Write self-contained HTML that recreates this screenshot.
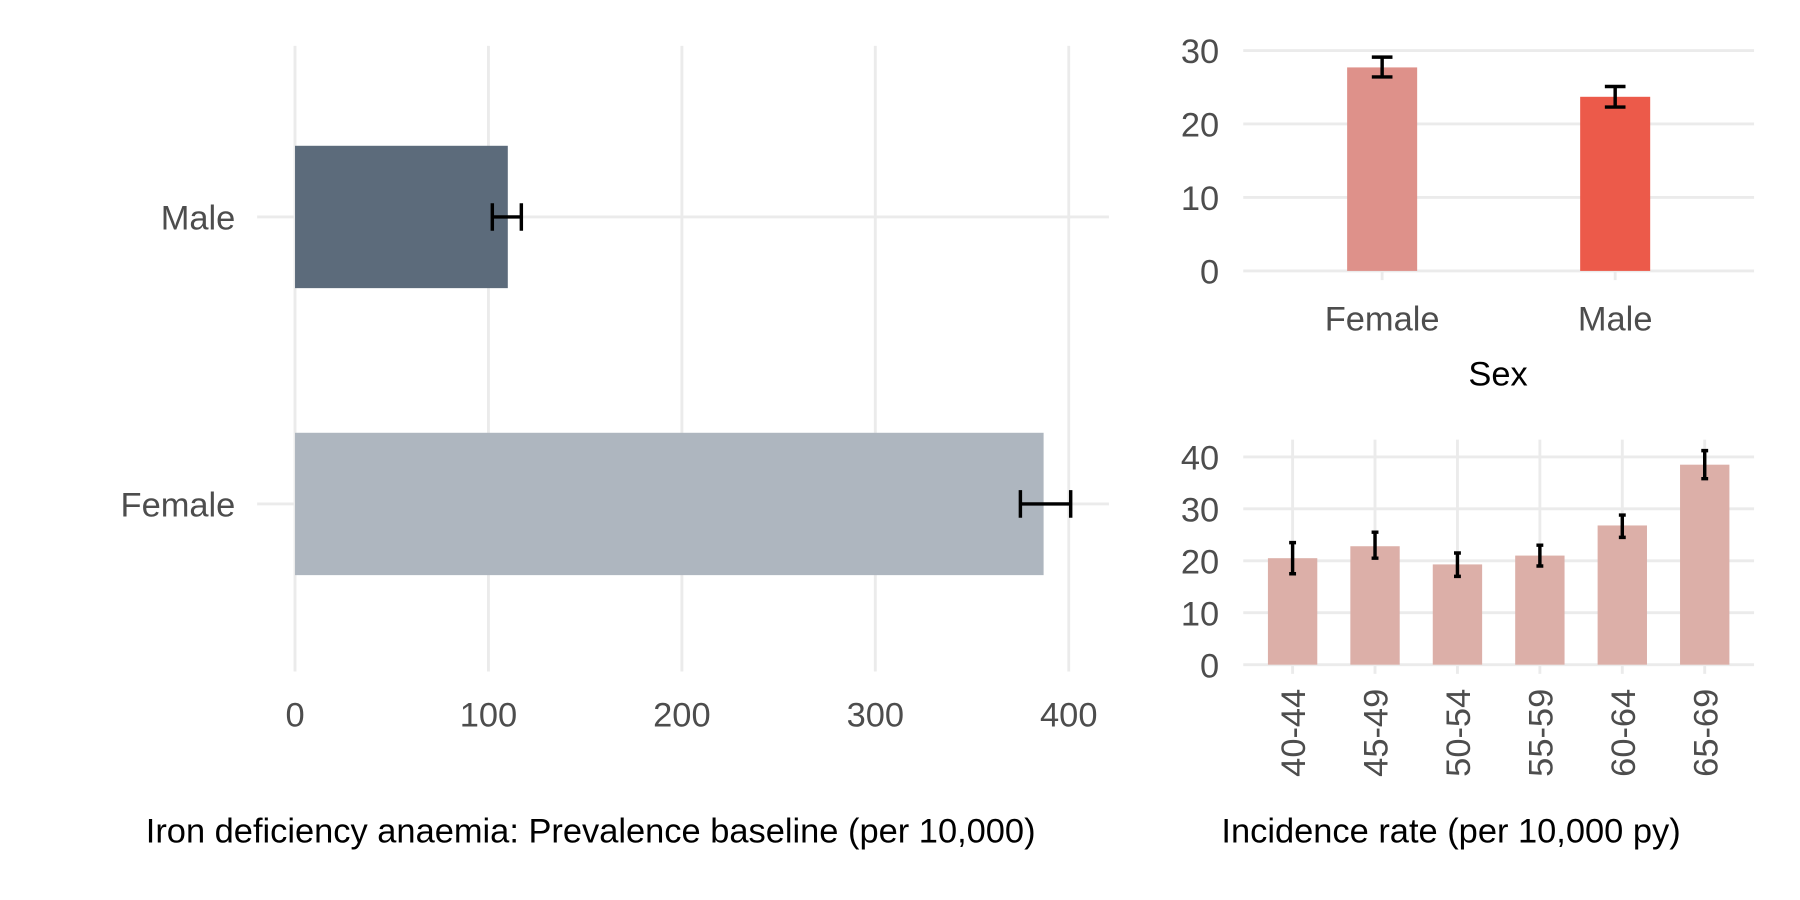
<!DOCTYPE html>
<html><head><meta charset="utf-8"><style>
html,body{margin:0;padding:0;background:#fff;}
svg{display:block;font-family:"Liberation Sans",sans-serif;}
</style></head><body>
<svg id="chart" width="1800" height="900" viewBox="0 0 1568 784">
<g id="left"></g>
<g id="tr"></g>
<g id="br"></g>
<text x="127" y="734" font-size="30" fill="#000">Iron deficiency anaemia: Prevalence baseline (per 10,000)</text>
<text x="1064" y="734" font-size="30" fill="#000">Incidence rate (per 10,000 py)</text>
</svg>
<script>
const prevCats = ["Male","Female"];
const prevVals = [110, 387];
const prevLo = [102, 375];
const prevHi = [117, 401];
const prevTicks = [0,100,200,300,400];

const sexCats = ["Female","Male"];
const sexVals = [27.7, 23.7];
const sexLo = [26.4, 22.3];
const sexHi = [29.1, 25.1];
const sexTicks = [0,10,20,30];

const ageCats = ["40-44","45-49","50-54","55-59","60-64","65-69"];
const ageVals = [20.5, 22.8, 19.3, 21.0, 26.8, 38.5];
const ageLo = [17.5, 20.5, 17.0, 19.0, 24.5, 35.8];
const ageHi = [23.5, 25.5, 21.5, 23.0, 28.8, 41.2];
const ageTicks = [0,10,20,30,40];

const NS="http://www.w3.org/2000/svg";
function mk(parent, tag, attrs, text){
  const e=document.createElementNS(NS,tag);
  for(const k in attrs) e.setAttribute(k,attrs[k]);
  if(text!==undefined) e.textContent=text;
  parent.appendChild(e); return e;
}
const grid="#ebebeb", tcol="#4d4d4d";

// LEFT panel
(function(){
  const g=document.getElementById('left');
  const x=v=>257+v*(931-257)/400;
  const y=i=>[189,439][i];
  prevTicks.forEach(t=>{
    const l=mk(g,'line',{x1:x(t),x2:x(t),y1:40,y2:585,stroke:grid,'stroke-width':2.5});
    
    
    const tx=mk(g,'text',{x:x(t),y:633,'font-size':30,fill:tcol,'text-anchor':'middle'},String(t));
    
    
  });
  prevCats.forEach((c,i)=>{
    const l=mk(g,'line',{x1:224,x2:966,y1:y(i),y2:y(i),stroke:grid,'stroke-width':2.5});
    
    
    const tx=mk(g,'text',{x:205,y:y(i)+11,'font-size':30,fill:tcol,'text-anchor':'end'},c);
    
    
  });
  prevCats.forEach((c,i)=>{
    const r=mk(g,'rect',{x:x(0),y:y(i)-62,width:x(prevVals[i])-x(0),height:124,fill:i===0?'#5c6b7b':'#aeb6bf'});
    
    
    const eb=mk(g,'path',{d:`M${x(prevLo[i])},${y(i)-12}V${y(i)+12}M${x(prevLo[i])},${y(i)}H${x(prevHi[i])}M${x(prevHi[i])},${y(i)-12}V${y(i)+12}`,stroke:'#000','stroke-width':3,fill:'none'});
    
    
  });
})();

// TOP RIGHT
(function(){
  const g=document.getElementById('tr');
  const y=v=>236-v*(236-44)/30;
  const xs=[1204,1407];
  sexTicks.forEach(t=>{
    const l=mk(g,'line',{x1:1083,x2:1528,y1:y(t),y2:y(t),stroke:grid,'stroke-width':2.5});
    
    
    const tx=mk(g,'text',{x:1062,y:y(t)+11,'font-size':30,fill:tcol,'text-anchor':'end'},String(t));
    
    
  });
  sexCats.forEach((c,i)=>{
    const tk=mk(g,'line',{x1:xs[i],x2:xs[i],y1:236,y2:244,stroke:grid,'stroke-width':2.5});
    
    
    const r=mk(g,'rect',{x:xs[i]-30.5,y:y(sexVals[i]),width:61,height:y(0)-y(sexVals[i]),fill:i===0?'#de918a':'#ec5a4a'});
    
    
    const a=y(sexHi[i]), b=y(sexLo[i]);
    const eb=mk(g,'path',{d:`M${xs[i]-9},${a}H${xs[i]+9}M${xs[i]},${a}V${b}M${xs[i]-9},${b}H${xs[i]+9}`,stroke:'#000','stroke-width':3,fill:'none'});
    
    
    const tx=mk(g,'text',{x:xs[i],y:288,'font-size':30,fill:tcol,'text-anchor':'middle'},c);
    
    
  });
  const t=mk(g,'text',{x:1305,y:336,'font-size':30,fill:'#000','text-anchor':'middle'},'Sex');
  
  
})();

// BOTTOM RIGHT
(function(){
  const g=document.getElementById('br');
  const y=v=>579-v*(579-398)/40;
  const x0=1126, step=71.8;
  const x=i=>x0+i*step;
  ageTicks.forEach(t=>{
    const l=mk(g,'line',{x1:1083,x2:1528,y1:y(t),y2:y(t),stroke:grid,'stroke-width':2.5});
    
    
    const tx=mk(g,'text',{x:1062,y:y(t)+11,'font-size':30,fill:tcol,'text-anchor':'end'},String(t));
    
    
  });
  ageCats.forEach((c,i)=>{
    const l=mk(g,'line',{x1:x(i),x2:x(i),y1:383,y2:587,stroke:grid,'stroke-width':2.5});
    
    
  });
  ageCats.forEach((c,i)=>{
    const r=mk(g,'rect',{x:x(i)-21.5,y:y(ageVals[i]),width:43,height:y(0)-y(ageVals[i]),fill:'#dcafa8'});
    
    
    const a=y(ageHi[i]), b=y(ageLo[i]);
    const eb=mk(g,'path',{d:`M${x(i)-3},${a}H${x(i)+3}M${x(i)},${a}V${b}M${x(i)-3},${b}H${x(i)+3}`,stroke:'#000','stroke-width':3,fill:'none'});
    
    
    const tx=mk(g,'text',{x:0,y:0,'font-size':30,fill:tcol,'text-anchor':'end',transform:`translate(${x(i)+11},600) rotate(-90)`},c);
    
    
  });
})();
</script>
</body></html>
